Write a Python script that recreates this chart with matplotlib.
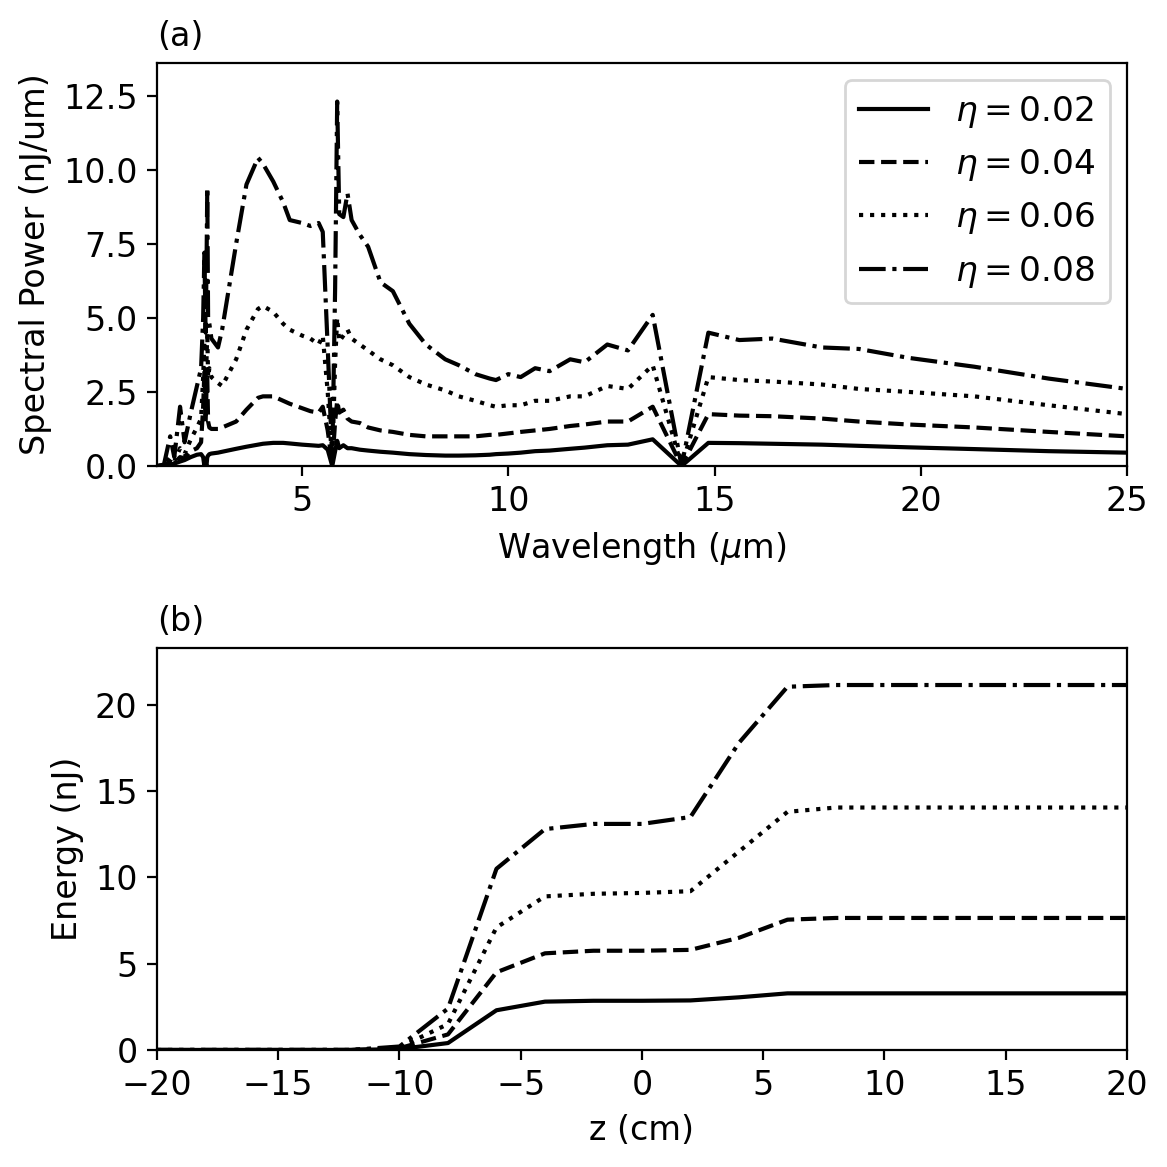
import matplotlib
matplotlib.use('Agg')
import matplotlib.pyplot as plt

# (a) spectral power vs wavelength
wavelength = [1.50, 1.65, 1.80, 1.90, 2.04, 2.15, 2.30, 2.45, 2.55, 2.60, 2.63, 2.66, 2.68,
              2.70, 2.72, 2.75, 2.80, 2.96, 3.06, 3.40, 3.65, 3.93, 4.05, 4.30, 4.54, 4.70,
              5.00, 5.20, 5.40, 5.50, 5.62, 5.73, 5.80, 5.85, 5.90, 6.00, 6.10, 6.20, 6.40,
              6.60, 6.90, 7.20, 7.60, 8.00, 8.47, 8.80, 9.20, 9.55, 9.70, 10.0, 10.3, 10.65,
              11.0, 11.5, 11.85, 12.4, 12.9, 13.5, 14.2, 14.85, 15.6, 16.4, 17.6, 18.5, 19.7,
              21.3, 23.1, 25.0]

p_002 = [0, 0.01, 0.05, 0.08, 0.15, 0.2, 0.3, 0.38, 0.4, 0.3, 0.0, 0.1, 0.0,
         0.3, 0.35, 0.4, 0.42, 0.45, 0.48, 0.58, 0.65, 0.72, 0.75, 0.78, 0.78, 0.76,
         0.72, 0.7, 0.68, 0.7, 0.55, 0.0, 0.5, 0.85, 0.6, 0.7, 0.6, 0.6, 0.55,
         0.52, 0.48, 0.45, 0.4, 0.37, 0.35, 0.35, 0.36, 0.38, 0.4, 0.42, 0.45, 0.5,
         0.52, 0.58, 0.62, 0.7, 0.72, 0.9, 0, 0.78, 0.77, 0.75, 0.72, 0.68, 0.63,
         0.57, 0.5, 0.45]

p_004 = [0, 0.01, 0.15, 0.1, 0.3, 0.25, 0.5, 0.6, 0.8, 2.0, 3.2, 1.5, 2.5,
         3.0, 1.5, 1.3, 1.25, 1.25, 1.3, 1.5, 1.9, 2.3, 2.35, 2.35, 2.2, 2.1,
         1.95, 1.85, 1.8, 2.0, 1.2, 0.05, 1.5, 2.2, 1.8, 1.9, 1.6, 1.5, 1.45,
         1.3, 1.2, 1.15, 1.05, 1.0, 1.0, 1.0, 1.0, 1.05, 1.05, 1.1, 1.15, 1.2,
         1.25, 1.35, 1.4, 1.5, 1.5, 2.0, 0, 1.75, 1.7, 1.68, 1.6, 1.5, 1.4,
         1.3, 1.15, 1.0]

p_006 = [0, 0.02, 0.3, 0.15, 0.6, 0.4, 0.9, 1.3, 1.6, 3.0, 4.2, 2.5, 3.5,
         4.5, 3.0, 3.3, 3.0, 2.8, 2.7, 3.6, 4.6, 5.3, 5.4, 5.2, 4.8, 4.6,
         4.4, 4.3, 4.1, 4.4, 2.5, 0.1, 3.5, 5.0, 4.2, 4.4, 4.6, 4.3, 4.1,
         3.9, 3.6, 3.4, 3.0, 2.75, 2.55, 2.35, 2.2, 2.05, 2.0, 2.05, 2.05, 2.2,
         2.2, 2.35, 2.35, 2.7, 2.6, 3.4, 0, 3.0, 2.9, 2.85, 2.75, 2.6, 2.5,
         2.35, 2.05, 1.75]

p_008 = [0, 0.05, 1.0, 0.3, 2.0, 0.8, 1.8, 2.7, 3.3, 5.0, 7.2, 4.5, 6.5,
         9.4, 5.0, 4.8, 4.3, 4.0, 4.6, 7.5, 9.5, 10.4, 10.2, 9.6, 8.9, 8.3,
         8.2, 8.1, 8.2, 7.9, 4.0, 0.2, 6.0, 12.3, 8.5, 8.4, 9.2, 8.3, 7.8,
         7.4, 6.2, 5.9, 4.8, 4.1, 3.6, 3.4, 3.1, 2.95, 2.9, 3.1, 3.0, 3.3,
         3.2, 3.6, 3.5, 4.1, 3.9, 5.1, 0.0, 4.5, 4.25, 4.3, 4.0, 3.95, 3.65,
         3.35, 2.95, 2.6]

# (b) energy vs z
z = [-20, -18, -16, -14, -12, -10, -8, -6, -4, -2, 0, 2, 4, 6, 8, 10, 12, 14, 16, 18, 20]
e_002 = [0, 0, 0, 0, 0, 0.05, 0.4, 2.3, 2.8, 2.85, 2.85, 2.87, 3.05, 3.28, 3.28, 3.28, 3.28, 3.28, 3.28, 3.28, 3.28]
e_004 = [0, 0, 0, 0, 0, 0.1, 0.9, 4.5, 5.6, 5.75, 5.75, 5.8, 6.5, 7.55, 7.65, 7.65, 7.65, 7.65, 7.65, 7.65, 7.65]
e_006 = [0, 0, 0, 0, 0, 0.15, 1.5, 7.1, 8.9, 9.05, 9.1, 9.2, 11.5, 13.8, 14.05, 14.05, 14.05, 14.05, 14.05, 14.05, 14.05]
e_008 = [0, 0, 0, 0, 0, 0.2, 2.4, 10.5, 12.8, 13.1, 13.1, 13.5, 17.8, 21.05, 21.15, 21.15, 21.15, 21.15, 21.15, 21.15, 21.15]

etas = ['0.02', '0.04', '0.06', '0.08']
estilos = ['-', '--', ':', '-.']

plt.rcParams['font.size'] = 12
fig = plt.figure(figsize=(5.835, 5.835), dpi=200)
ax1 = fig.add_axes([0.1345, 0.6007, 0.8312, 0.3453])
ax2 = fig.add_axes([0.1345, 0.1003, 0.8312, 0.3445])

for p, eta, ls in zip([p_002, p_004, p_006, p_008], etas, estilos):
    ax1.plot(wavelength, p, color='black', linestyle=ls, linewidth=1.5, label=r'$\eta = %s$' % eta)
ax1.set_xlim(1.48, 25)
ax1.set_ylim(0, 13.6)
ax1.set_xlabel(r'Wavelength ($\mu$m)')
ax1.set_ylabel('Spectral Power (nJ/um)')
ax1.set_title('(a)', loc='left', fontsize=12)
ax1.legend(loc='upper right', fontsize=12.4)

for e, ls in zip([e_002, e_004, e_006, e_008], estilos):
    ax2.plot(z, e, color='black', linestyle=ls, linewidth=1.5)
ax2.set_xlim(-20, 20)
ax2.set_ylim(0, 23.3)
ax2.set_xlabel('z (cm)')
ax2.set_ylabel('Energy (nJ)')
ax2.set_title('(b)', loc='left', fontsize=12)

plt.savefig('out.png', dpi=200)
